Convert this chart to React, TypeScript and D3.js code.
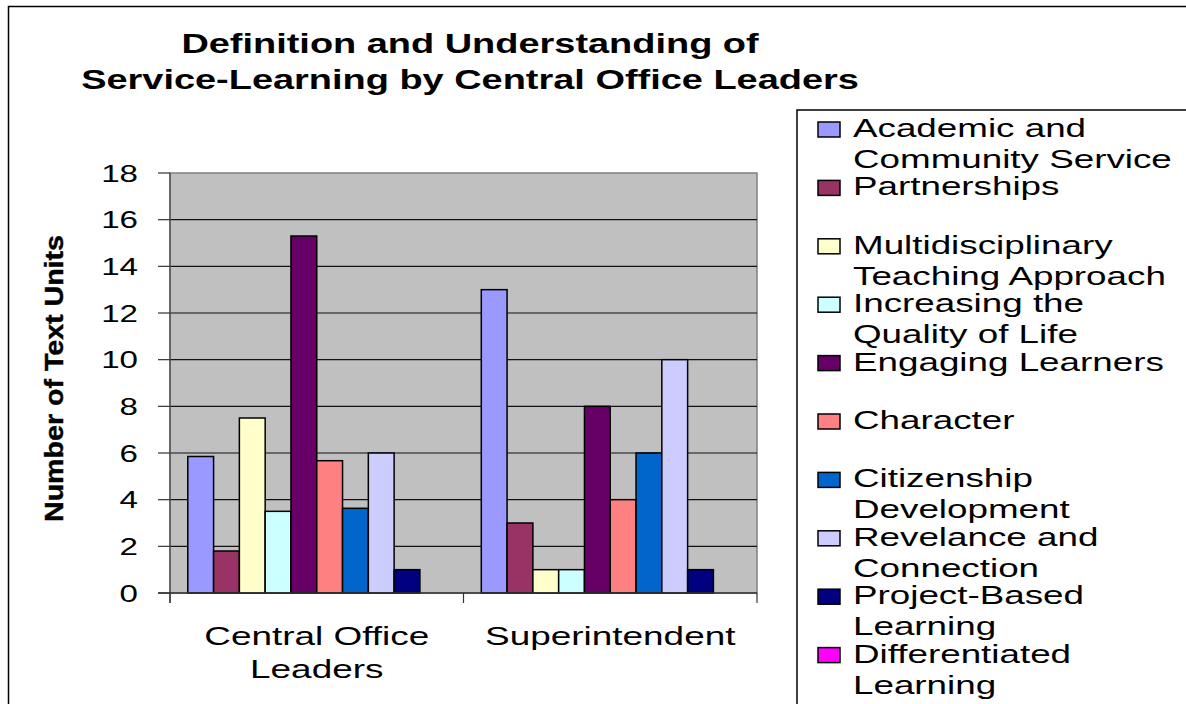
import React from "react";
import * as d3 from "d3";

const categories = ["Central Office Leaders", "Superintendent"];
const categoryLines = [["Central Office", "Leaders"], ["Superintendent"]];
const seriesNames = [
  "Academic and Community Service",
  "Partnerships",
  "Multidisciplinary Teaching Approach",
  "Increasing the Quality of Life",
  "Engaging Learners",
  "Character",
  "Citizenship Development",
  "Revelance and Connection",
  "Project-Based Learning",
  "Differentiated Learning",
];
const legendLines = [
  ["Academic and", "Community Service"],
  ["Partnerships"],
  ["Multidisciplinary", "Teaching Approach"],
  ["Increasing the", "Quality of Life"],
  ["Engaging Learners"],
  ["Character"],
  ["Citizenship", "Development"],
  ["Revelance and", "Connection"],
  ["Project-Based", "Learning"],
  ["Differentiated", "Learning"],
];
const centralOfficeValues = [5.85, 1.8, 7.5, 3.5, 15.3, 5.67, 3.63, 6, 1, 0];
const superintendentValues = [13, 3, 1, 1, 8, 4, 6, 10, 1, 0];
const seriesColors = [
  "#9999FF", "#993366", "#FFFFCC", "#CCFFFF", "#660066",
  "#FF8080", "#0066CC", "#CCCCFF", "#000080", "#FF00FF",
];
const yTicks = [0, 2, 4, 6, 8, 10, 12, 14, 16, 18];
const titleLines = ["Definition and Understanding of", "Service-Learning by Central Office Leaders"];
const yAxisTitle = "Number of Text Units";

const FONT = "'Liberation Sans', Arial, Helvetica, sans-serif";
const SX = 1.38;

function T(props: any) {
  const { x, y, anchor = "start", size, weight = "normal", children, sx = SX } = props;
  return (
    <text
      transform={`translate(${x},${y}) scale(${sx},1)`}
      textAnchor={anchor}
      fontSize={size}
      fontWeight={weight}
      fontFamily={FONT}
      fill="#000"
    >
      {children}
    </text>
  );
}

export default function App() {
  const W = 1186, H = 704;
  const plot = { left: 170, right: 757, top: 173, bottom: 593 };
  const values = [centralOfficeValues, superintendentValues];

  const x0 = d3.scaleBand<string>().domain(categories).range([plot.left, plot.right]).paddingInner(0).paddingOuter(0);
  const x1 = d3.scaleBand<string>().domain(seriesNames).range([0, x0.bandwidth()]).paddingInner(0).paddingOuter(0.69);
  const y = d3.scaleLinear().domain([0, 18]).range([plot.bottom, plot.top]);

  return (
    <svg width={W} height={H} style={{ position: "absolute", left: 0, top: 0, background: "#fff" }}>
      {/* outer chart border */}
      <rect x={8.5} y={6.5} width={1300} height={800} fill="#fff" stroke="#000" strokeWidth={1.5} />

      {/* title */}
      {titleLines.map((t, i) => (
        <T key={i} x={470} y={53 + i * 36} anchor="middle" size={28} weight="bold" sx={1.355}>{t}</T>
      ))}

      {/* plot background */}
      <rect x={plot.left} y={plot.top} width={plot.right - plot.left} height={plot.bottom - plot.top} fill="#C0C0C0" stroke="#808080" strokeWidth={1.5} />

      {/* gridlines */}
      {yTicks.filter((v) => v > 0 && v < 18).map((v) => (
        <line key={v} x1={plot.left} x2={plot.right} y1={y(v)} y2={y(v)} stroke="#111" strokeWidth={1.2} />
      ))}

      {/* bars */}
      {categories.map((c, ci) => (
        <g key={c} transform={`translate(${x0(c)},0)`}>
          {seriesNames.map((s, si) => {
            const v = values[ci][si];
            if (v <= 0) return null;
            return (
              <rect
                key={s}
                x={x1(s)}
                y={y(v)}
                width={x1.bandwidth()}
                height={y(0) - y(v)}
                fill={seriesColors[si]}
                stroke="#000"
                strokeWidth={1.5}
              />
            );
          })}
        </g>
      ))}

      {/* y axis */}
      <line x1={plot.left} x2={plot.left} y1={plot.top} y2={plot.bottom + 10} stroke="#555" strokeWidth={1.5} />
      {yTicks.map((v) => (
        <g key={v}>
          <line x1={plot.left - 12} x2={plot.left} y1={y(v)} y2={y(v)} stroke="#333" strokeWidth={1.2} />
          <T x={138} y={y(v) + 8.5} anchor="end" size={24}>{v}</T>
        </g>
      ))}

      {/* x axis */}
      <line x1={plot.left - 12} x2={plot.right} y1={plot.bottom} y2={plot.bottom} stroke="#333" strokeWidth={1.5} />
      {[...categories.map((c) => x0(c) as number), plot.right].map((xv, i) => (
        <line key={i} x1={xv} x2={xv} y1={plot.bottom} y2={plot.bottom + 10} stroke="#333" strokeWidth={1.2} />
      ))}
      {categories.map((c, ci) =>
        categoryLines[ci].map((ln, li) => (
          <T key={c + li} x={(x0(c) as number) + x0.bandwidth() / 2} y={645 + li * 33} anchor="middle" size={26} sx={1.42}>{ln}</T>
        ))
      )}

      {/* y axis title */}
      <text
        transform={`translate(63,378.5) rotate(-90)`}
        textAnchor="middle"
        fontSize={25}
        fontWeight="bold"
        fontFamily={FONT}
        textLength={287}
        lengthAdjust="spacingAndGlyphs"
        stroke="#000"
        strokeWidth={0.4}
      >
        {yAxisTitle}
      </text>

      {/* legend */}
      <rect x={797} y={110} width={500} height={700} fill="#fff" stroke="#000" strokeWidth={1.5} />
      {seriesNames.map((s, i) => {
        const by = 137 + i * 58.4;
        return (
          <g key={s}>
            <rect x={818} y={by - 15} width={22} height={15} fill={seriesColors[i]} stroke="#000" strokeWidth={1.5} />
            {legendLines[i].map((ln, li) => (
              <T key={li} x={853} y={by + li * 31} size={26} sx={1.415}>{ln}</T>
            ))}
          </g>
        );
      })}
    </svg>
  );
}
